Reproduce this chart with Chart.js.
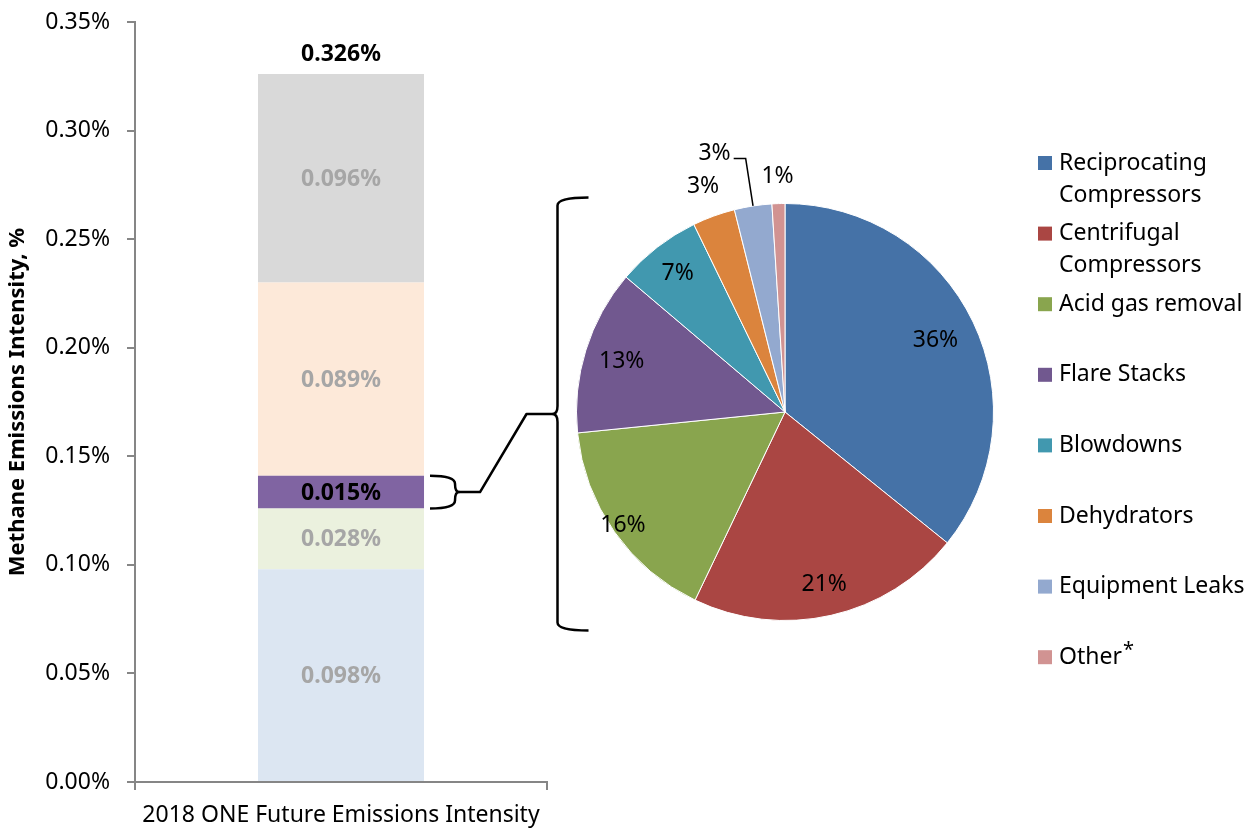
<!DOCTYPE html>
<html>
<head>
<meta charset="utf-8">
<script src="https://cdn.jsdelivr.net/npm/chart.js@4.4.0/dist/chart.umd.min.js"></script>
<style>
  body { margin: 0; background: #fff; }
  #wrap { position: relative; width: 1252px; height: 831px; }
  #wrap canvas { position: absolute; left: 0; top: 0; }
</style>
</head>
<body>
<div id="wrap">
  <canvas id="barChart" width="1252" height="831"></canvas>
  <canvas id="pieChart" width="1252" height="831"></canvas>
</div>
<script>
// bar: one category, stacked segments (bottom -> top), values in %
const category = ['2018 ONE Future Emissions Intensity'];
const segmentNames = ['Production', 'Gathering & Boosting', 'Processing', 'Transmission & Storage', 'Distribution'];
const segmentValues = [0.098, 0.028, 0.015, 0.089, 0.096];
const segmentColors = ['#dce6f2', '#ebf1de', '#8064a2', '#fde9d9', '#d9d9d9'];
const segmentLabelColors = ['#a6a6a6', '#a6a6a6', '#000000', '#a6a6a6', '#a6a6a6'];
const yMax = 0.35;
const yStep = 0.05;

// pie: breakdown of the processing segment, % share
const pieLabels = ['Reciprocating Compressors', 'Centrifugal Compressors', 'Acid gas removal', 'Flare Stacks',
  'Blowdowns', 'Dehydrators', 'Equipment Leaks', 'Other*'];
const pieShares = [35.8, 21.3, 16.3, 12.8, 6.6, 3.3, 2.9, 1.0];
const pieColors = ['#4572a7', '#aa4643', '#89a54e', '#71588f', '#4198af', '#db843d', '#93a9cf', '#d19392'];

const FONT = '"Noto Sans"';
const FS = 23; // base font size
Chart.defaults.font.family = FONT;
Chart.defaults.color = '#000';

// where the pie labels sit, as fraction of radius (outside ones > 1)
const pieLabelRadius = [0.8, 0.85, 0.95, 0.82, 0.84, 1.15, 1.23, 1.13];

const barLabels = {
  id: 'barLabels',
  afterDatasetsDraw(chart) {
    const ctx = chart.ctx;
    ctx.save();
    ctx.font = 'bold ' + FS + 'px ' + FONT;
    ctx.textAlign = 'center';
    ctx.textBaseline = 'middle';
    let total = 0;
    chart.data.datasets.forEach((ds, i) => {
      const el = chart.getDatasetMeta(i).data[0];
      total += ds.data[0];
      ctx.fillStyle = segmentLabelColors[i];
      ctx.fillText(ds.data[0].toFixed(3) + '%', el.x, (el.y + el.base) / 2 + 1);
    });
    const topEl = chart.getDatasetMeta(chart.data.datasets.length - 1).data[0];
    ctx.fillStyle = '#000';
    ctx.fillText(total.toFixed(3) + '%', topEl.x, topEl.y - 20);
    ctx.restore();
  }
};

const barChart = new Chart(document.getElementById('barChart'), {
  type: 'bar',
  data: {
    labels: category,
    datasets: segmentNames.map((name, i) => ({
      label: name,
      data: [segmentValues[i]],
      backgroundColor: segmentColors[i],
      borderWidth: 0,
      categoryPercentage: 1,
      barPercentage: 0.403
    }))
  },
  options: {
    responsive: false,
    animation: false,
    layout: { padding: { left: 0, right: 705, top: 22, bottom: 0 } },
    plugins: { legend: { display: false }, tooltip: { enabled: false } },
    scales: {
      x: {
        stacked: true,
        afterFit(scale) { scale.height = 49; },
        border: { color: '#868686', width: 2 },
        grid: { offset: true, drawOnChartArea: false, tickLength: 8, color: '#868686', lineWidth: 2 },
        ticks: { padding: 12, font: { size: FS }, color: '#000' }
      },
      y: {
        stacked: true,
        min: 0,
        max: yMax,
        afterFit(scale) {
          scale.width = 135;
          // let layout padding alone decide the plot top/bottom
          scale.paddingTop = 0;
          scale.paddingBottom = 0;
        },
        border: { color: '#868686', width: 2 },
        grid: { drawOnChartArea: false, tickLength: 8, color: '#868686', lineWidth: 2 },
        ticks: {
          stepSize: yStep,
          padding: 17,
          font: { size: FS },
          color: '#000',
          callback: v => v.toFixed(2) + '%'
        },
        title: {
          display: true,
          text: 'Methane Emissions Intensity, %',
          font: { size: 22, weight: 'bold' },
          padding: { top: 5, bottom: 0 },
          color: '#000'
        }
      }
    }
  },
  plugins: [barLabels]
});

function brace(ctx, x, y1, y2, dir, arm, tip) {
  // dir +1: tip points right, -1: tip points left
  const m = (y1 + y2) / 2, r = Math.min(8, (y2 - y1) / 4);
  ctx.beginPath();
  ctx.moveTo(x - dir * arm, y1);
  ctx.quadraticCurveTo(x, y1, x, y1 + r);
  ctx.lineTo(x, m - r);
  ctx.quadraticCurveTo(x, m, x + dir * tip, m);
  ctx.quadraticCurveTo(x, m, x, m + r);
  ctx.lineTo(x, y2 - r);
  ctx.quadraticCurveTo(x, y2, x - dir * arm, y2);
  ctx.stroke();
}

function wrapText(ctx, text, maxW) {
  const words = text.split(' ');
  const lines = [];
  let cur = '';
  words.forEach(w => {
    const t = cur ? cur + ' ' + w : w;
    if (cur && ctx.measureText(t).width > maxW) { lines.push(cur); cur = w; }
    else cur = t;
  });
  lines.push(cur);
  return lines;
}

const pieExtras = {
  id: 'pieExtras',
  afterDatasetsDraw(chart) {
    const ctx = chart.ctx;
    const arcs = chart.getDatasetMeta(0).data;
    const cx = arcs[0].x, cy = arcs[0].y, R = arcs[0].outerRadius;
    ctx.save();

    // slice labels
    ctx.font = FS + 'px ' + FONT;
    ctx.fillStyle = '#000';
    ctx.textBaseline = 'middle';
    arcs.forEach((a, i) => {
      const mid = (a.startAngle + a.endAngle) / 2;
      const rho = R * pieLabelRadius[i];
      const px = cx + Math.cos(mid) * rho, py = cy + Math.sin(mid) * rho;
      const txt = Math.round(pieShares[i]) + '%';
      if (i === 6) {
        // leader line for the crowded slice
        const ex = cx + Math.cos(mid) * R, ey = cy + Math.sin(mid) * R;
        ctx.strokeStyle = '#000';
        ctx.lineWidth = 1.5;
        ctx.beginPath();
        ctx.moveTo(ex, ey);
        ctx.lineTo(px, py);
        ctx.lineTo(px - 12, py);
        ctx.stroke();
        ctx.textAlign = 'right';
        ctx.fillText(txt, px - 15, py - 5);
      } else {
        ctx.textAlign = 'center';
        ctx.fillText(txt, px, py);
      }
    });

    // braces linking the processing segment to the pie
    const seg = barChart.getDatasetMeta(2).data[0];
    const sx = seg.x + seg.width / 2 + 31;
    const sm = (seg.y + seg.base) / 2;
    const bx = cx - R - 19;
    ctx.strokeStyle = '#000';
    ctx.lineWidth = 2.5;
    ctx.lineJoin = 'round';
    brace(ctx, sx, seg.y, seg.base, 1, 25, 4);
    brace(ctx, bx, cy - R - 6, cy + R + 10, -1, 31, 5);
    ctx.beginPath();
    ctx.moveTo(sx + 4, sm);
    ctx.lineTo(sx + 25, sm);
    ctx.lineTo(bx - 31, cy + 2);
    ctx.lineTo(bx - 5, cy + 2);
    ctx.stroke();

    // legend
    const lx = 1038, ly = 163, step = 70.6, lineGap = 32;
    ctx.font = FS + 'px ' + FONT;
    ctx.textAlign = 'left';
    chart.data.labels.forEach((label, i) => {
      const y = ly + i * step;
      ctx.fillStyle = pieColors[i];
      ctx.fillRect(lx, y - 7, 14, 14);
      ctx.fillStyle = '#000';
      wrapText(ctx, label, 205).forEach((line, j) => {
        if (line.endsWith('*')) {
          const base = line.slice(0, -1);
          ctx.fillText(base, lx + 21, y + j * lineGap);
          const w = ctx.measureText(base).width;
          ctx.font = '20px ' + FONT;
          ctx.fillText('*', lx + 22 + w, y + j * lineGap - 7);
          ctx.font = FS + 'px ' + FONT;
        } else {
          ctx.fillText(line, lx + 21, y + j * lineGap);
        }
      });
    });
    ctx.restore();
  }
};

const pieChart = new Chart(document.getElementById('pieChart'), {
  type: 'pie',
  data: {
    labels: pieLabels,
    datasets: [{
      data: pieShares,
      backgroundColor: pieColors,
      borderColor: '#ffffff',
      borderWidth: 1
    }]
  },
  options: {
    responsive: false,
    animation: false,
    layout: { padding: { left: 576, right: 258, top: 203, bottom: 210 } },
    plugins: { legend: { display: false }, tooltip: { enabled: false } }
  },
  plugins: [pieExtras]
});
</script>
</body>
</html>
